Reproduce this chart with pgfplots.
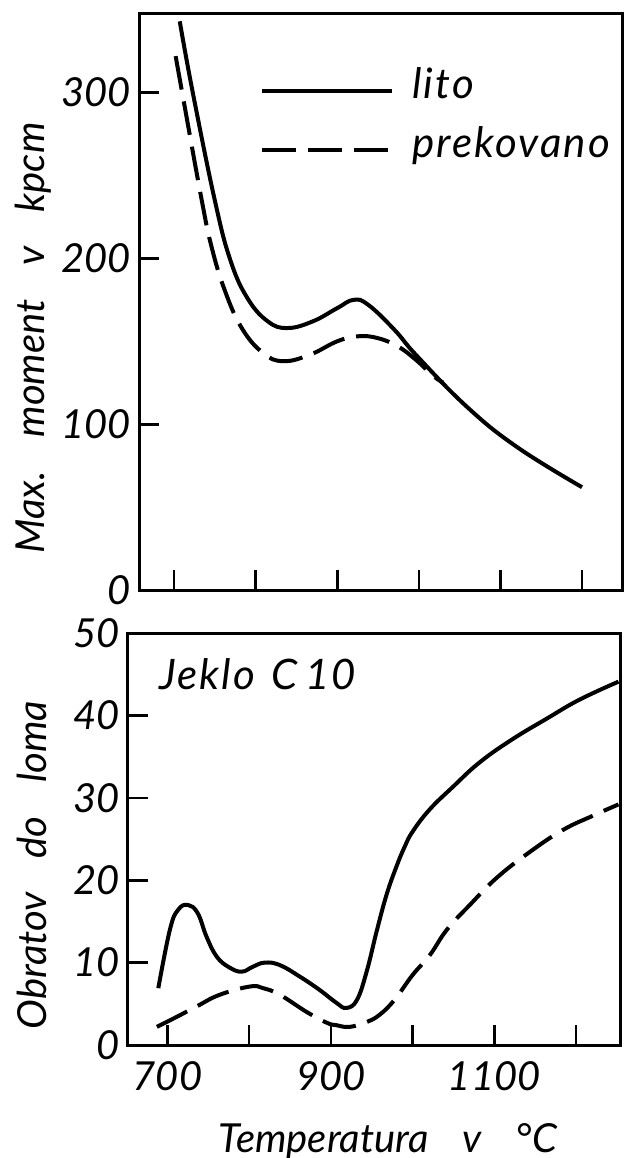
\documentclass[border=0pt]{standalone}
\usepackage{fontspec}
\setmainfont{Lato}
\newfontfamily\labfont{Lato}[LetterSpace=5]
\newfontfamily\axlabfont{Lato}[LetterSpace=10]
\usepackage{pgfplots}
\pgfplotsset{compat=1.18}
\newcommand{\ff}{\fontsize{20}{24}\selectfont\itshape}
\newcommand{\lf}{\labfont\fontsize{21}{25}\selectfont\itshape}
\newcommand{\af}{\axlabfont\fontsize{21}{25}\selectfont\itshape}
\begin{document}
\begin{tikzpicture}
\useasboundingbox (0,0) rectangle (312pt,-579pt);
\pgfplotsset{
  every axis/.append style={
    scale only axis,
    axis line style={line width=1.5pt},
    every tick/.style={line width=1.3pt, black},
    major tick length=10pt,
    tick align=inside, xtick pos=bottom, ytick pos=left,
    font=\ff, ticklabel style={font=\ff},
    label style={font=\af},
    /pgf/number format/assume math mode=true,
    /pgf/number format/set thousands separator={},
    yticklabel style={inner sep=0pt, xshift=-4pt},
    xticklabel style={inner sep=0pt, yshift=-8pt},
  },
  lito/.style={black, line width=2pt, smooth, tension=0.7},
  prek/.style={black, line width=2pt, smooth, tension=0.7, dash pattern=on 17pt off 6pt},
}
\begin{axis}[at={(69.75pt,-295pt)}, anchor=south west, width=241.25pt, height=288.5pt,
  xmin=657.7, xmax=1249, ymin=0, ymax=348,
  xtick={700,800,...,1200}, xticklabels={},
  ytick={0,100,200,300},
  ylabel={Max.\hspace{0.85em}moment\hspace{0.85em}v\hspace{0.85em}kpcm},
  every axis y label/.style={at={(rel axis cs:-0.2207,0.4367)}, rotate=90, anchor=center},
  legend style={at={(rel axis cs:0.2497,0.901)}, anchor=north west, draw=none, fill=none,
    inner sep=0pt, row sep=11.5pt, font=\lf,
    nodes={inner sep=0pt, text height=14pt, text depth=4pt},
    /tikz/every odd column/.append style={column sep=9pt}},
  legend cell align=left,
  legend image code/.code={\draw[#1] (0pt,-1pt) -- (65pt,-1pt);},
]
\addplot[lito] coordinates {
 (707,343) (723,300) (750,235) (769,199) (790,176) (815,162) (839,158)
 (870,162) (900,170) (920,175) (938,172) (970,157) (998,141) (1060,110)
 (1121,86) (1200,62)};
\addlegendentry{lito}
\addplot[prek] coordinates {
 (702,322) (710,300) (734,235) (746,207) (762,181) (783,158) (809,143)
 (834,138) (867,142) (900,150) (925,153) (949,152) (974,147) (996,139)
 (1018,129) (1030,125)};
\addlegendentry{prekovano}
\end{axis}
\begin{axis}[at={(64pt,-522.5pt)}, anchor=south west, width=246pt, height=206pt,
  xmin=651.7, xmax=1253.8, ymin=0, ymax=50,
  xtick={700,800,...,1200}, xticklabels={700,,900,,1100,},
  ytick={0,10,...,50},
  xlabel={Temperatura\hspace{0.85em}v\hspace{0.85em}°C},
  every axis x label/.style={at={(rel axis cs:0.528,-0.2597)}, anchor=base},
  ylabel={Obratov\hspace{0.85em}do\hspace{0.85em}loma},
  every axis y label/.style={at={(rel axis cs:-0.195,0.437)}, rotate=90, anchor=center},
]
\addplot[lito] coordinates {
 (688.8,6.9) (703,14.0) (713,16.4) (725,17.0) (737,16.0) (748,13.1) (760.5,10.7)
 (776,9.4) (791,8.9) (804.5,9.5) (819,10.0) (837.5,9.7) (862,8.3) (886,6.7)
 (907,5.1) (919,4.5) (932,5.5) (944,9.0) (956,13.8) (968,18.2) (980,21.6)
 (990,24.0) (1000,25.9) (1021,28.6) (1049,31.3) (1082,34.3) (1122,37.1)
 (1164,39.6) (1204,41.9) (1252,44.1)};
\addplot[prek] coordinates {
 (687,2.2) (711,3.4) (736,4.7) (764,6.1) (801,7.1) (817,6.9) (837.5,6.1)
 (870.5,4.0) (895,2.7) (907,2.4) (923,2.2) (944,2.8) (960,3.7) (978,5.5)
 (1000,8.5) (1021,10.9) (1042,14.0) (1070,17.0) (1103,20.3) (1143,23.4)
 (1184,26.1) (1220,27.8) (1252,29.2)};
\node[anchor=base west, inner sep=0pt, font=\lf] at (rel axis cs:0.063,0.864)
  {Jeklo\hspace{8pt}C\hspace{4pt}10};
\end{axis}
\end{tikzpicture}
\end{document}
